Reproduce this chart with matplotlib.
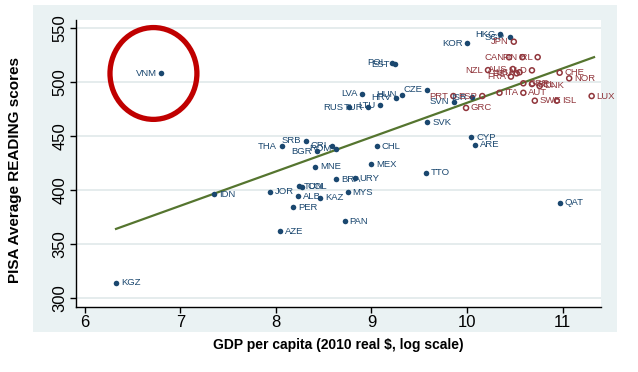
import matplotlib
matplotlib.use("Agg")
import matplotlib.pyplot as plt
from matplotlib.patches import Ellipse, Rectangle

plt.rcParams['font.family'] = ['Liberation Sans', 'DejaVu Sans']

# ---- data: filled (blue) countries ----
blue_names = ["VNM", "KGZ", "IDN", "JOR", "TUN", "COL", "ALB", "KAZ", "PER", "AZE",
              "MNE", "BRA", "URY", "MYS", "PAN", "THA", "SRB", "BGR", "CRI", "ROM",
              "CHL", "MEX", "TTO", "SVK", "CYP", "ARE", "QAT", "RUS", "TUR", "LTU",
              "LVA", "HUN", "HRV", "CZE", "SVN", "ISR", "POL", "EST", "KOR", "HKG", "SGP"]
blue_gdp = [6.80, 6.325, 7.354, 7.94, 8.244, 8.275, 8.227, 8.461, 8.178, 8.045,
            8.41, 8.628, 8.824, 8.75, 8.72, 8.06, 8.314, 8.426, 8.583, 8.628,
            9.058, 8.995, 9.567, 9.585, 10.045, 10.087, 10.97, 8.76, 8.967, 9.089,
            8.905, 9.316, 9.257, 9.585, 9.867, 10.05, 9.21, 9.246, 10.005, 10.35, 10.45]
blue_read = [508, 314, 396, 398.5, 403.7, 402.8, 394.2, 392.9, 384, 362,
             421.6, 410, 410.8, 397.8, 371, 440.7, 445.6, 436, 441, 438.3,
             440.7, 424, 416, 462.7, 448.8, 442, 388, 476.6, 476.6, 478.4,
             488.9, 488, 485.2, 492.6, 481.8, 485.8, 517.9, 516.4, 535.8, 544.4, 541.4]
blue_side = ["L", "R", "R", "R", "R", "R", "R", "R", "R", "R",
             "R", "R", "R", "R", "R", "L", "L", "L", "L", "L",
             "R", "R", "R", "R", "R", "R", "R", "L", "L", "L",
             "L", "L", "L", "L", "L", "L", "L", "L", "L", "L", "L"]

# ---- data: hollow (red) countries ----
red_names = ["JPN", "CAN", "FIN", "IRL", "NZL", "AUS", "USA", "FRA", "DEU", "NLD",
             "GBR", "BEL", "CHE", "NOR", "DNK", "AUT", "ITA", "SWE", "ISL", "LUX",
             "PRT", "ESP", "GRC"]
red_gdp = [10.49, 10.44, 10.58, 10.74, 10.22, 10.48, 10.55, 10.46, 10.52, 10.68,
           10.59, 10.68, 10.97, 11.07, 10.76, 10.59, 10.34, 10.71, 10.94, 11.305,
           9.857, 10.16, 9.99]
red_read = [537.3, 522.9, 523, 523, 511, 512, 509, 505, 508, 510.8,
            498.8, 498.1, 508.6, 503.4, 496.3, 490, 490, 482.7, 482.7, 487,
            487, 487, 476]
red_side = ["L", "L", "L", "L", "L", "L", "L", "L", "L", "L",
            "R", "R", "R", "R", "R", "R", "R", "R", "R", "R",
            "L", "L", "R"]

# ---- fitted line endpoints ----
fit_gdp = [6.325, 11.33]
fit_read = [364, 523]

x_ticks = [6, 7, 8, 9, 10, 11]
y_ticks = [300, 350, 400, 450, 500, 550]

BLUE = "#1a476f"
RED = "#90353b"
GREEN = "#55752f"
BG = "#eaf2f3"

fig = plt.figure(figsize=(6.38, 3.72), dpi=100)
fig.patch.set_facecolor("white")
fig.patches.append(Rectangle((33 / 638, 1 - 332 / 372), (617 - 33) / 638, (332 - 5) / 372,
                             transform=fig.transFigure, facecolor=BG, edgecolor="none",
                             zorder=-10))

ax = fig.add_axes([76 / 638, 1 - 307 / 372, (601 - 76) / 638, (307 - 20) / 372])
ax.set_zorder(5)
ax.set_facecolor("white")
ax.set_xlim(5.906, 11.403)
ax.set_ylim(291.7, 557.4)

for s in ["top", "right"]:
    ax.spines[s].set_visible(False)
for s in ["left", "bottom"]:
    ax.spines[s].set_linewidth(1.0)
    ax.spines[s].set_color("black")

ax.set_xticks(x_ticks)
ax.set_yticks(y_ticks)
ax.set_yticklabels([str(v) for v in y_ticks], rotation=90, va="center")
ax.tick_params(axis="both", labelsize=12, length=4, width=1, pad=2, color="black")
ax.yaxis.grid(True, color="#e3eaec", linewidth=1.3)
ax.set_axisbelow(True)

ax.plot(fit_gdp, fit_read, color=GREEN, linewidth=1.6, zorder=2)

ax.scatter(blue_gdp, blue_read, s=16, color=BLUE, zorder=3, linewidths=0)
ax.scatter(red_gdp, red_read, s=13, facecolors="none", edgecolors=RED, linewidths=1.1, zorder=3)

def label(names, xs, ys, sides, color):
    for n, x, y, sd in zip(names, xs, ys, sides):
        if sd == "L":
            ax.annotate(n, (x, y), xytext=(-3.5, 0), textcoords="offset points",
                        ha="right", va="center", fontsize=6.8, color=color, zorder=4)
        else:
            ax.annotate(n, (x, y), xytext=(3.5, 0), textcoords="offset points",
                        ha="left", va="center", fontsize=6.8, color=color, zorder=4)

label(blue_names, blue_gdp, blue_read, blue_side, BLUE)
label(red_names, red_gdp, red_read, red_side, RED)

# red highlight circle around VNM
ax.add_patch(Ellipse((6.717, 507.9), 0.91, 85, fill=False, edgecolor="#c00000",
                     linewidth=3.8, zorder=5))

fig.text(338 / 638, 1 - 345 / 372, "GDP per capita (2010 real $, log scale)",
         ha="center", va="center", fontsize=10, fontweight="bold")
fig.text(15 / 638, 1 - 170 / 372, "PISA Average READING scores", rotation=90,
         ha="center", va="center", fontsize=11, fontweight="bold")

fig.savefig("out.png", dpi=100)
